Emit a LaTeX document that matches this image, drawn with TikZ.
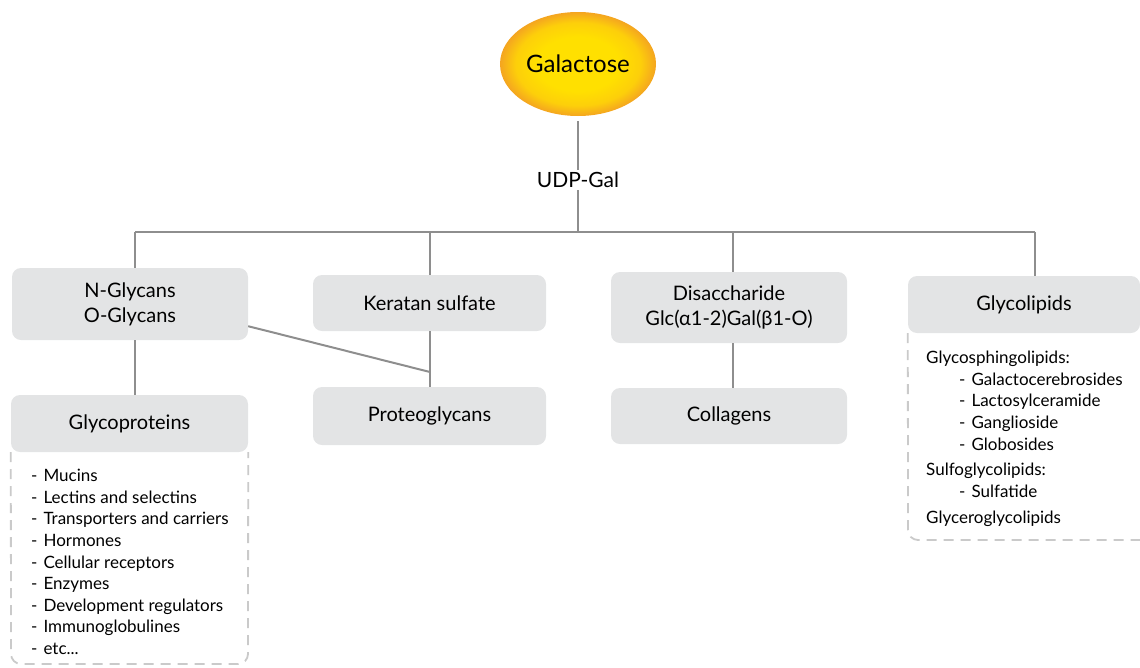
\documentclass[tikz,border=0pt]{standalone}
\usepackage{fontspec}
\setmainfont{Lato}
\usetikzlibrary{shapes.geometric,calc}
\definecolor{boxgray}{HTML}{E3E4E5}
\definecolor{linegray}{HTML}{8E8E8E}
\definecolor{dashgray}{HTML}{CACACA}
\definecolor{galin}{HTML}{FFE000}
\definecolor{galmid}{HTML}{FDCF0A}
\definecolor{galout}{HTML}{F4A520}
\pgfdeclareradialshading{galshade}{\pgfpoint{0bp}{0bp}}{color(0bp)=(galin); color(13bp)=(galin); color(20bp)=(galmid); color(25bp)=(galout); color(50bp)=(galout)}
\tikzset{
  box/.style={rectangle, rounded corners=9pt, fill=boxgray, align=center, inner sep=0pt,
    font=\fontsize{20}{25}\selectfont},
  conn/.style={draw=linegray, line width=2pt},
  dashbox/.style={draw=dashgray, line width=1.8pt, dash pattern=on 10pt off 7pt, rounded corners=10pt},
  listtext/.style={align=left, anchor=north west, inner sep=0pt, font=\fontsize{17}{21.6}\selectfont}
}
\newcommand{\itm}{-\hspace{6pt}}
\begin{document}
\begin{tikzpicture}[x=1pt,y=-1pt]
\useasboundingbox (0,0) rectangle (1140,667);
% top
\node[ellipse, minimum width=156pt, minimum height=104pt, inner sep=0pt,
  shading=galshade, font=\fontsize{24}{28}\selectfont] (gal) at (578,64) {Galactose};
\node[inner sep=2pt, font=\fontsize{21}{25}\selectfont] (udp) at (578,180) {UDP-Gal};
\coordinate (hub) at (578,232);
\coordinate (j1) at (135,232);
\coordinate (j2) at (430,232);
\coordinate (j3) at (733,232);
\coordinate (j4) at (1035,232);
% boxes
\node[box, minimum width=236pt, minimum height=72pt] (ng) at (130,304) {N-Glycans\\O-Glycans};
\node[box, minimum width=233pt, minimum height=56pt] (ks) at (429.5,303) {Keratan sulfate};
\node[box, minimum width=236pt, minimum height=71pt] (dis) at (729,307.5) {Disaccharide\\Glc(α1-2)Gal(β1-O)};
\node[box, minimum width=232pt, minimum height=57pt] (gl) at (1024,304.5) {Glycolipids};
\node[box, minimum width=237pt, minimum height=57pt] (gp) at (129.5,423.5) {Glycoproteins};
\node[box, minimum width=233pt, minimum height=58pt] (pg) at (429.5,416) {Proteoglycans};
\node[box, minimum width=236pt, minimum height=56pt] (col) at (729,416) {Collagens};
% lists
\node[listtext] (gplist) at (31,469) {\itm Mucins\\\itm Lectins and selectins\\\itm Transporters and carriers\\\itm Hormones\\\itm Cellular receptors\\\itm Enzymes\\\itm Development regulators\\\itm Immunoglobulines\\\itm etc...};
\node[listtext] (gllist) at (926,351) {Glycosphingolipids:\\
\hspace*{33pt}\itm Galactocerebrosides\\
\hspace*{33pt}\itm Lactosylceramide\\
\hspace*{33pt}\itm Ganglioside\\
\hspace*{33pt}\itm Globosides\\[4pt]
Sulfoglycolipids:\\
\hspace*{33pt}\itm Sulfatide\\[5pt]
Glyceroglycolipids};
% connectors
\draw[conn] (gal.south) ++(0,-5pt) -- (udp.north);
\draw[conn] (udp.south) -- (hub);
\draw[conn] (j1) -- (j4);
\draw[conn] (j1) -- (j1 |- ng.north);
\draw[conn] (j2) -- (j2 |- ks.north);
\draw[conn] (j3) -- (j3 |- dis.north);
\draw[conn] (j4) -- (j4 |- gl.north);
\draw[conn] (j1 |- ng.south) -- (j1 |- gp.north);
\draw[conn] (j2 |- ks.south) -- (j2 |- pg.north);
\draw[conn] (j3 |- dis.south) -- (j3 |- col.north);
\coordinate (meet) at (430,372);
\draw[conn] ([yshift=14pt]ng.south east) -- (meet);
% dashed panels
\draw[dashbox] (gp.south west) -- (11,664) -- (248,664) -- (gp.south east);
\draw[dashbox] (gl.south west) -- (908,540) -- (1140,540);
\end{tikzpicture}
\end{document}
